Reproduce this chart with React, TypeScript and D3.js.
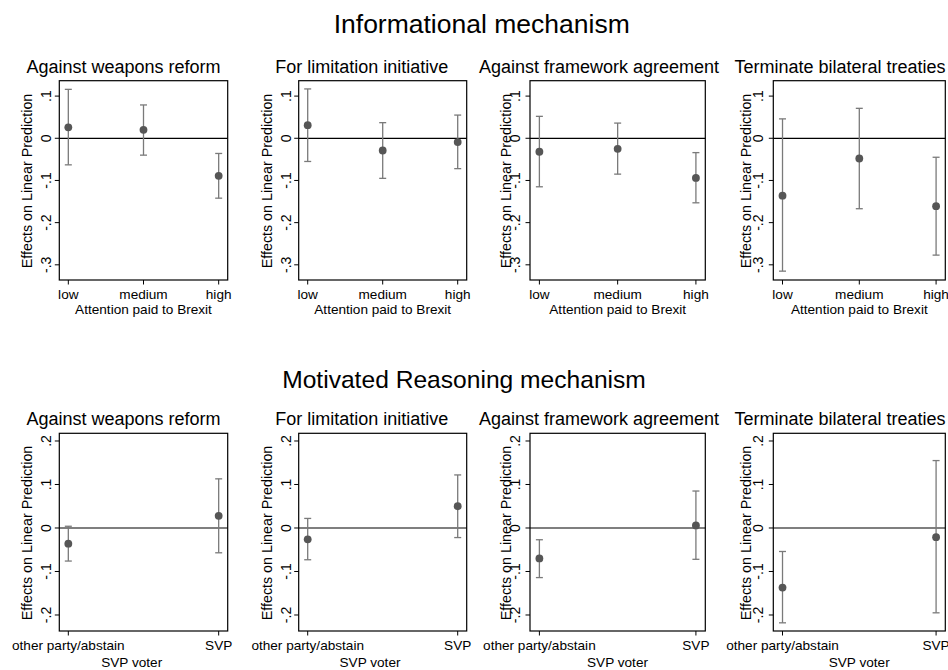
import React from "react";
import * as d3 from "d3";

// ---------- DATA ----------
const outcomeTitles = [
  "Against weapons reform",
  "For limitation initiative",
  "Against framework agreement",
  "Terminate bilateral treaties",
];
const infoCategories = ["low", "medium", "high"];
const partyCategories = ["other party/abstain", "SVP"];

const infoEstimate = [
  [0.026, 0.02, -0.089],
  [0.031, -0.029, -0.009],
  [-0.032, -0.025, -0.094],
  [-0.136, -0.048, -0.161],
];
const infoLower = [
  [-0.063, -0.04, -0.142],
  [-0.055, -0.095, -0.072],
  [-0.115, -0.085, -0.153],
  [-0.315, -0.167, -0.277],
];
const infoUpper = [
  [0.116, 0.079, -0.036],
  [0.117, 0.037, 0.055],
  [0.052, 0.036, -0.034],
  [0.046, 0.071, -0.045],
];

const motEstimate = [
  [-0.036, 0.028],
  [-0.026, 0.05],
  [-0.07, 0.006],
  [-0.137, -0.021],
];
const motLower = [
  [-0.076, -0.057],
  [-0.073, -0.022],
  [-0.114, -0.072],
  [-0.218, -0.195],
];
const motUpper = [
  [0.004, 0.113],
  [0.022, 0.122],
  [-0.027, 0.085],
  [-0.054, 0.155],
];

const infoTicks = [0.1, 0, -0.1, -0.2, -0.3];
const motTicks = [0.2, 0.1, 0, -0.1, -0.2];
const infoDomain = [-0.336, 0.1365];
const motDomain = [-0.2368, 0.2177];

const yTitle = "Effects on Linear Prediction";
const infoXTitle = "Attention paid to Brexit";
const motXTitle = "SVP voter";
const rowTitles = ["Informational mechanism", "Motivated Reasoning mechanism"];

// ---------- LAYOUT ----------
const W = 948;
const H = 670;
const FONT = "'Liberation Sans', Arial, Helvetica, sans-serif";
const panelX = [
  { left: 59.3, right: 227.7, tickOff: 8, titleX: 32.3, titleC: 123.5, xTitleC: [143.5, 131.7] },
  { left: 298.7, right: 466.7, tickOff: 8, titleX: 272.3, titleC: 361.7, xTitleC: [382.7, 370] },
  { left: 530, right: 705.3, tickOff: 10, titleX: 511, titleC: 599, xTitleC: [617.7, 617.5] },
  { left: 773.3, right: 945.3, tickOff: 10, titleX: 751, titleC: 840, xTitleC: [859.3, 859.2] },
];
const rows = [
  { top: 80.7, bottom: 280, titleY: 73.3, xLabY: 298.8, xTitleY: 314.2, yTitleC: 181, mainY: 33, mainX: 481.7, mainSize: 26.5 },
  { top: 433.3, bottom: 631, titleY: 425, xLabY: 650.2, xTitleY: 666.9, yTitleC: 533, mainY: 388.3, mainX: 464, mainSize: 24.6 },
];

const fmt = (v: number) =>
  v === 0 ? "0" : (v < 0 ? "-" : "") + String(Math.round(Math.abs(v) * 10) / 10).replace(/^0/, "");

const BAR = "#7a7a7a";
const DOT = "#565656";

function Panel({ p, r, cats, est, lo, hi, ticks, domain, xTitle, title }: any) {
  const px = panelX[p];
  const row = rows[r];
  const n = cats.length;
  const pad = n === 3 ? 0.12 : 0.06;
  const x = d3.scaleLinear().domain([-pad, n - 1 + pad]).range([px.left, px.right]);
  const y = d3.scaleLinear().domain(domain).range([row.bottom, row.top]);
  const cap = 3.5;
  return (
    <g>
      <text x={px.titleC} y={row.titleY} textAnchor="middle" fontSize={18} fill="#000">
        {title}
      </text>
      <rect
        x={px.left}
        y={row.top}
        width={px.right - px.left}
        height={row.bottom - row.top}
        fill="none"
        stroke="#000"
        strokeWidth={1.2}
      />
      <line x1={px.left} x2={px.right} y1={y(0)} y2={y(0)} stroke="#000" strokeWidth={1.2} />
      {ticks.map((t: number) => (
        <g key={t}>
          <line x1={px.left - 4.5} x2={px.left} y1={y(t)} y2={y(t)} stroke="#000" strokeWidth={1} />
          <text
            transform={`translate(${px.left - px.tickOff},${y(t)}) rotate(-90)`}
            textAnchor="middle"
            fontSize={14}
            fill="#000"
          >
            {fmt(t)}
          </text>
        </g>
      ))}
      <text
        transform={`translate(${px.titleX},${row.yTitleC}) rotate(-90)`}
        textAnchor="middle"
        fontSize={14.3}
        fill="#000"
      >
        {yTitle}
      </text>
      {cats.map((c: string, i: number) => (
        <g key={c}>
          <line x1={x(i)} x2={x(i)} y1={row.bottom} y2={row.bottom + 4.5} stroke="#000" strokeWidth={1} />
          <text x={x(i)} y={row.xLabY} textAnchor="middle" fontSize={13.6} fill="#000">
            {c}
          </text>
        </g>
      ))}
      <text x={px.xTitleC[r]} y={row.xTitleY} textAnchor="middle" fontSize={13.6} fill="#000">
        {xTitle}
      </text>
      {cats.map((c: string, i: number) => (
        <g key={"e" + c}>
          <line x1={x(i)} x2={x(i)} y1={y(lo[i])} y2={y(hi[i])} stroke={BAR} strokeWidth={1.3} />
          <line x1={x(i) - cap} x2={x(i) + cap} y1={y(lo[i])} y2={y(lo[i])} stroke={BAR} strokeWidth={1.3} />
          <line x1={x(i) - cap} x2={x(i) + cap} y1={y(hi[i])} y2={y(hi[i])} stroke={BAR} strokeWidth={1.3} />
          <circle cx={x(i)} cy={y(est[i])} r={3.9} fill={DOT} />
        </g>
      ))}
    </g>
  );
}

export default function App() {
  return (
    <div style={{ position: "absolute", left: 0, top: 0, width: W, height: H, background: "#fff" }}>
      <svg width={W} height={H} style={{ display: "block", fontFamily: FONT }} overflow="hidden">
        <rect width={W} height={H} fill="#fff" />
        {rows.map((row, r) => (
          <text key={r} x={row.mainX} y={row.mainY} textAnchor="middle" fontSize={row.mainSize} fill="#000">
            {rowTitles[r]}
          </text>
        ))}
        {outcomeTitles.map((t, p) => (
          <Panel
            key={"i" + p}
            p={p}
            r={0}
            cats={infoCategories}
            est={infoEstimate[p]}
            lo={infoLower[p]}
            hi={infoUpper[p]}
            ticks={infoTicks}
            domain={infoDomain}
            xTitle={infoXTitle}
            title={t}
          />
        ))}
        {outcomeTitles.map((t, p) => (
          <Panel
            key={"m" + p}
            p={p}
            r={1}
            cats={partyCategories}
            est={motEstimate[p]}
            lo={motLower[p]}
            hi={motUpper[p]}
            ticks={motTicks}
            domain={motDomain}
            xTitle={motXTitle}
            title={t}
          />
        ))}
      </svg>
    </div>
  );
}
